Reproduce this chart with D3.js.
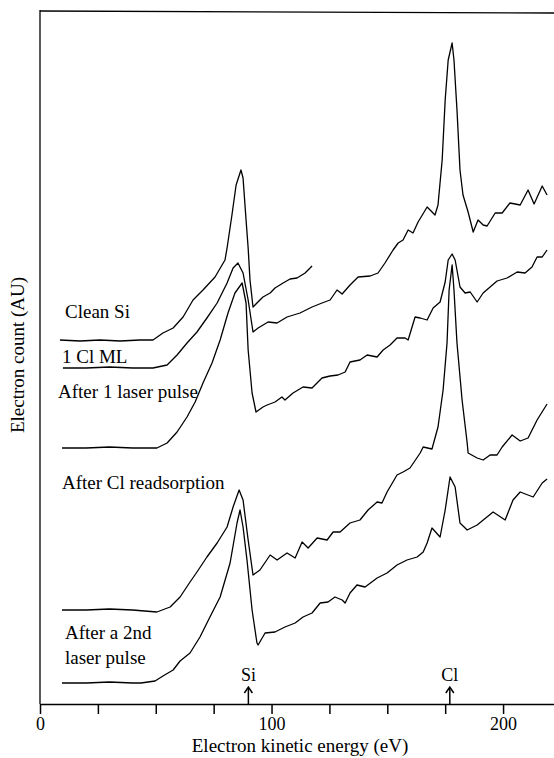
<!DOCTYPE html>
<html>
<head>
<meta charset="utf-8">
<script src="https://cdn.jsdelivr.net/npm/d3@7"></script>
<style>
  body { margin: 0; background: #fff; }
  svg text { font-family: "Liberation Serif", "Times New Roman", serif; fill: #000; }
</style>
</head>
<body>
<div class="svg-container"></div>
<script>
// energies (eV) and counts (AU)
var cleanSi = [[8.6,364],[17.3,363],[25.9,364],[34.6,363],[43.2,364],[48.8,364],[53.1,371],[57.5,376],[61.8,387],
  [66.1,404],[70.4,414],[75.6,427],[79.9,444],[80.8,456],[82.9,489],[84.7,519],[86.8,534],[87.7,526],[89.0,484],
  [89.9,456],[90.7,424],[92.0,397],[96.3,407],[99.4,411],[101.5,416],[105.0,421],[108.0,425],[111.0,426],
  [114.5,431],[117.5,438]];

var oneClML = [[9.9,336],[20,336],[30,337],[40,336],[48.8,336],[54.9,339],[59.2,349],[63.5,361],[67.8,372],
  [72.1,386],[76.5,401],[80.8,421],[83.4,436],[85.5,441],[87.7,431],[89.9,404],[92.0,372],[94.2,376],[98.5,382],
  [102.4,381],[106.7,387],[112.3,391],[117.5,397],[121.8,401],[125.3,404],[128.3,414],[130.5,410],[133.9,419],
  [137.4,427],[142.6,428],[146.0,431],[149.0,441],[152.5,454],[154.7,461],[156.8,464],[159.0,474],[161.1,471],
  [163.3,482],[167.2,497],[168.5,494],[170.6,489],[171.9,499],[173.7,544],[175.0,604],[176.3,644],[178.0,661],
  [178.8,644],[180.1,594],[181.4,534],[182.7,509],[184.9,492],[187.1,472],[189.2,484],[191.4,479],[193.1,478],
  [196.6,491],[199.6,491],[203.0,501],[207.4,499],[210.8,514],[213.4,500],[216.9,518],[219.0,509]];

var afterPulse1 = [[9.5,256],[20,256],[30,257],[40,256],[50.5,256],[54.9,261],[59.2,272],[63.5,287],[67.0,302],
  [70.4,321],[74.3,341],[77.8,364],[81.2,391],[84.2,411],[87.3,421],[89.0,401],[89.9,354],[91.6,311],[93.3,292],
  [96.3,297],[98.1,299],[101.5,302],[104.5,307],[105.8,304],[109.3,311],[113.6,317],[117.5,316],[121.8,326],
  [125.3,328],[128.7,329],[131.8,332],[133.9,342],[138.2,344],[141.3,349],[145.6,347],[148.2,354],[151.2,359],
  [154.2,366],[157.7,366],[159.0,364],[162.0,387],[164.2,386],[167.2,384],[169.8,396],[172.8,402],[175.0,422],
  [176.3,444],[178.0,450],[179.3,444],[181.4,417],[183.6,411],[185.8,412],[188.8,402],[191.4,411],[194.4,417],
  [197.4,423],[201.7,426],[206.1,432],[209.5,431],[212.5,437],[214.7,447],[216.9,447],[219.0,454]];

var readsorb = [[9.5,94],[20,94],[30,95],[40,94],[50.5,92],[56.2,97],[60.5,107],[64.8,122],[67.8,132],[72.1,147],
  [76.5,161],[80.8,177],[83.4,197],[86.0,214],[87.7,204],[89.9,164],[92.0,129],[95.0,134],[99.4,149],[102.4,144],
  [106.7,151],[110.2,146],[113.2,162],[115.8,156],[119.7,166],[124.0,164],[126.6,172],[129.6,172],[133.9,181],
  [138.2,184],[141.7,194],[145.6,202],[147.7,201],[149.9,212],[154.2,229],[156.8,232],[159.8,236],[164.2,251],
  [165.5,257],[169.3,255],[171.9,277],[174.1,314],[175.8,361],[176.7,414],[178.0,439],[178.8,414],[180.1,361],
  [182.3,304],[184.5,261],[184.9,251],[188.8,246],[191.4,244],[194.4,249],[197.4,249],[199.6,257],[203.9,269],
  [207.4,263],[210.8,266],[214.7,284],[219.0,300]];

var afterPulse2 = [[9.5,21],[20,21],[30,22],[40,21],[43.6,21],[49.7,23],[53.1,28],[57.5,34],[60.5,43],[64.8,51],
  [69.1,67],[73.4,87],[77.8,107],[82.1,141],[85.1,181],[86.4,194],[87.7,177],[89.4,144],[91.6,94],[93.7,61],
  [94.2,59],[97.2,71],[101.5,72],[105.8,77],[110.2,81],[113.6,87],[117.5,91],[121.0,101],[124.4,102],[127.4,107],
  [130.5,104],[131.8,101],[133.9,111],[136.9,119],[140.4,117],[145.6,126],[149.9,131],[154.2,139],[158.5,144],
  [162.9,147],[165.5,152],[167.2,161],[169.3,176],[172.8,167],[175.0,194],[177.1,227],[179.3,217],[181.4,181],
  [184.5,174],[188.8,179],[195.7,192],[200.9,184],[204.3,204],[207.4,212],[213.0,207],[216.9,221],[219.0,225]];

var spectra = [cleanSi, oneClML, afterPulse1, readsorb, afterPulse2];

// curve labels: [text, energy of left edge, count at baseline]
var curveLabels = [["Clean Si", 10.8, 386], ["1 Cl ML", 9.5, 341], ["After 1 laser pulse", 7.8, 306],
  ["After Cl readsorption", 9.5, 215], ["After a 2nd", 10.8, 65], ["laser pulse", 10.8, 40]];

var peakNames = ["Si", "Cl"];
var peakEnergies = [90, 177];
var xTicks = [0, 25, 50, 75, 100, 125, 150, 175, 200];

var width = 554, height = 758;
var svg = d3.select(".svg-container").append("svg")
  .attr("width", width)
  .attr("height", height);

var x = d3.scaleLinear().domain([0, 222]).range([40, 554]);
var y = d3.scaleLinear().domain([0, 694]).range([704, 10]);

// frame: left and top
svg.append("line")
  .attr("x1", 40).attr("y1", y(694))
  .attr("x2", 40).attr("y2", y(0))
  .style("stroke", "#000").style("stroke-width", 1.3);
svg.append("line")
  .attr("x1", 40).attr("y1", y(694) + 1)
  .attr("x2", 554).attr("y2", y(694) + 3)
  .style("stroke", "#000").style("stroke-width", 1.3);

// x axis
var xAxis = svg.append("g")
  .attr("transform", "translate(0," + y(0) + ")")
  .call(d3.axisBottom(x)
    .tickValues(xTicks)
    .tickSize(10)
    .tickSizeOuter(0)
    .tickFormat(function(d){ return d % 100 === 0 ? d : ""; }));
xAxis.select(".domain").style("stroke-width", 1.3);
xAxis.selectAll(".tick line").style("stroke-width", 1.5);
xAxis.selectAll(".tick text")
  .attr("y", 13)
  .style("font-size", "18px")
  .style("font-family", "'Liberation Serif', 'Times New Roman', serif");

// axis labels
svg.append("text")
  .attr("x", 300)
  .attr("y", 752)
  .style("text-anchor", "middle")
  .style("font-size", "19px")
  .text("Electron kinetic energy (eV)");

svg.append("text")
  .attr("transform", "rotate(-90)")
  .attr("x", -355)
  .attr("y", 24)
  .style("text-anchor", "middle")
  .style("font-size", "19px")
  .text("Electron count (AU)");

// spectra
var line = d3.line()
  .x(function(d){ return x(d[0]); })
  .y(function(d){ return y(d[1]); });

svg.selectAll(".spectrum")
  .data(spectra)
  .enter().append("path")
  .attr("class", "spectrum")
  .attr("d", line)
  .attr("fill", "none")
  .attr("stroke", "#000")
  .attr("stroke-width", 1.3)
  .attr("stroke-linejoin", "round");

// curve labels
svg.selectAll(".curve-label")
  .data(curveLabels)
  .enter().append("text")
  .attr("class", "curve-label")
  .attr("x", function(d){ return x(d[1]); })
  .attr("y", function(d){ return y(d[2]); })
  .style("font-size", "19px")
  .text(function(d){ return d[0]; });

// peak markers
var marker = svg.selectAll(".peak")
  .data(peakEnergies)
  .enter().append("g")
  .attr("class", "peak")
  .attr("transform", function(d){ return "translate(" + x(d) + "," + y(0) + ")"; });

marker.append("line")
  .attr("x1", 0).attr("y1", 0)
  .attr("x2", 0).attr("y2", -16)
  .style("stroke", "#000").style("stroke-width", 1.5);
marker.append("path")
  .attr("d", "M-4,-11 L0,-17 L4,-11")
  .attr("fill", "none")
  .attr("stroke", "#000")
  .attr("stroke-width", 1.5);
marker.append("text")
  .attr("y", -23)
  .style("text-anchor", "middle")
  .style("font-size", "18px")
  .text(function(d, i){ return peakNames[i]; });
</script>
</body>
</html>
